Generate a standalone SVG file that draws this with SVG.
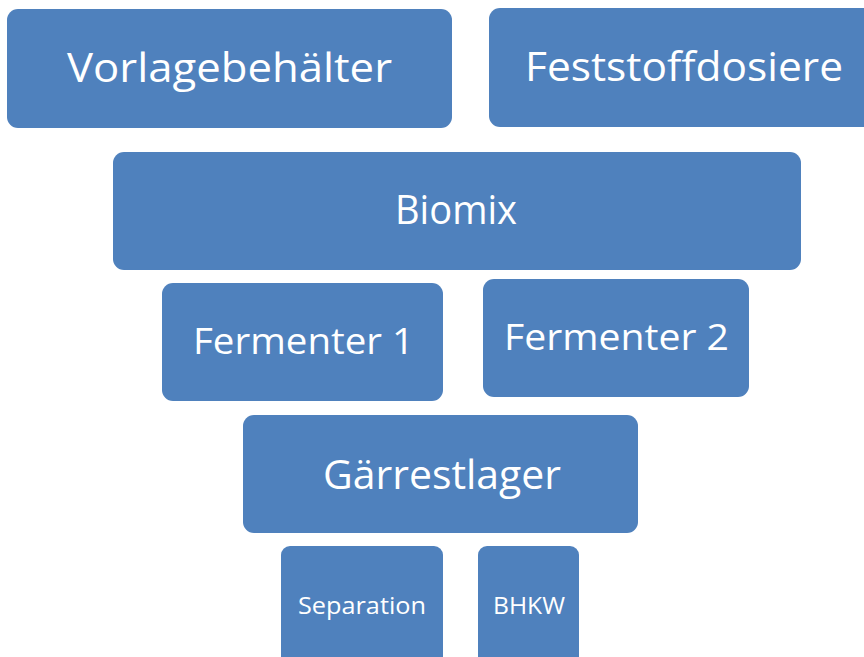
<svg xmlns="http://www.w3.org/2000/svg" width="864" height="657" viewBox="0 0 864 657">
  <style>
    .box { fill: #4f81bd; }
    .lbl { fill: #ffffff; font-family: "Open Sans", "Noto Sans", "Liberation Sans", sans-serif; text-anchor: middle; }
    .big { font-size: 40px; }
    .mid { font-size: 36px; }
    .small { font-size: 24.5px; }
  </style>
  <rect width="864" height="657" fill="#ffffff"/>
  <g id="connectors"></g>
  <g id="vorlagebehaelter">
    <rect class="box" x="7" y="9" width="445" height="119" rx="11"/>
    <text class="lbl big" x="229.5" y="82" textLength="325" lengthAdjust="spacingAndGlyphs">Vorlagebehälter</text>
  </g>
  <g id="feststoffdosiere">
    <rect class="box" x="489" y="8" width="390" height="119" rx="11"/>
    <text class="lbl big" x="684" y="80.5" textLength="318" lengthAdjust="spacingAndGlyphs">Feststoffdosiere</text>
  </g>
  <g id="biomix">
    <rect class="box" x="113" y="152" width="688" height="118" rx="11"/>
    <text class="lbl big" x="456" y="223.5" textLength="122" lengthAdjust="spacingAndGlyphs">Biomix</text>
  </g>
  <g id="fermenter1">
    <rect class="box" x="162" y="283" width="281" height="118" rx="11"/>
    <text class="lbl mid" x="303.5" y="354" textLength="221" lengthAdjust="spacingAndGlyphs">Fermenter 1</text>
  </g>
  <g id="fermenter2">
    <rect class="box" x="483" y="279" width="266" height="118" rx="11"/>
    <text class="lbl mid" x="616.5" y="350" textLength="225" lengthAdjust="spacingAndGlyphs">Fermenter 2</text>
  </g>
  <g id="gaerrestlager">
    <rect class="box" x="243" y="415" width="395" height="118" rx="11"/>
    <text class="lbl big" x="442" y="488.5" textLength="238" lengthAdjust="spacingAndGlyphs">Gärrestlager</text>
  </g>
  <g id="separation">
    <rect class="box" x="281" y="546" width="162" height="130" rx="9"/>
    <text class="lbl small" x="362" y="613.5" textLength="128" lengthAdjust="spacingAndGlyphs">Separation</text>
  </g>
  <g id="bhkw">
    <rect class="box" x="478" y="546" width="101" height="130" rx="9"/>
    <text class="lbl small" x="529" y="613.5" textLength="72" lengthAdjust="spacingAndGlyphs">BHKW</text>
  </g>
</svg>
